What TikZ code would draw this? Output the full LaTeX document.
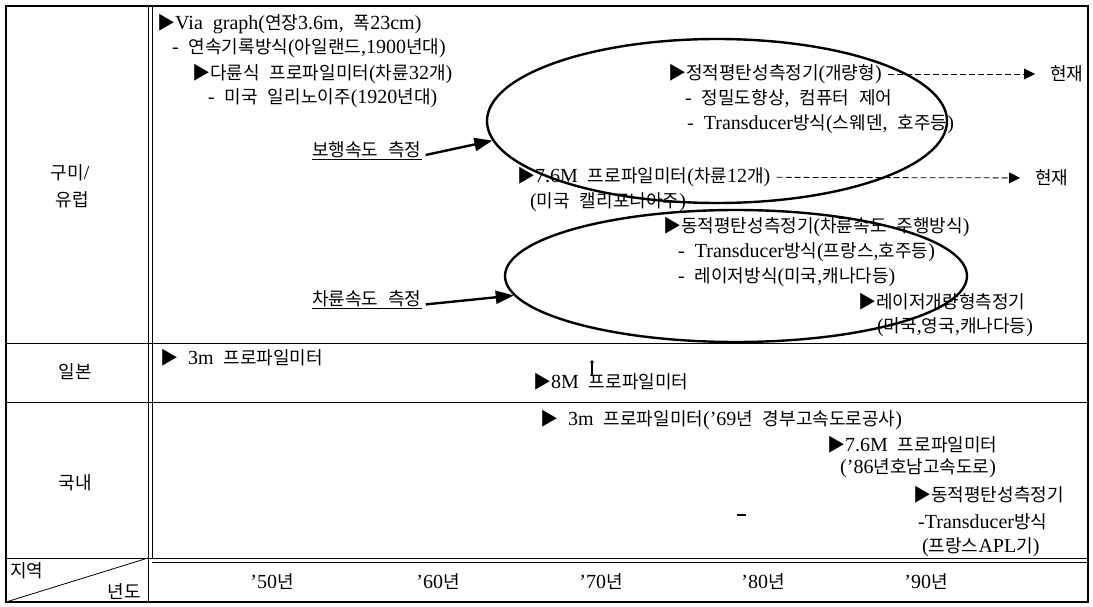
\documentclass[tikz,border=0pt]{standalone}
\usepackage{fontspec}
\setmainfont{Liberation Serif}[WordSpace=2]
\newfontfamily\krfont{Noto Sans CJK KR}[Scale=0.9]
\usetikzlibrary{shapes.geometric,arrows.meta}
% hangul (and the triangle mark) in the CJK face
\XeTeXinterchartokenstate=1
\newXeTeXintercharclass\hangulclass
\newcount\hgc
\hgc="AC00
\loop
\XeTeXcharclass\hgc=\hangulclass
\ifnum\hgc<"D7A3 \advance\hgc by 1
\repeat
\XeTeXcharclass"25B6=\hangulclass
\XeTeXinterchartoks 0 \hangulclass={\begingroup\krfont}
\XeTeXinterchartoks 4095 \hangulclass={\begingroup\krfont}
\XeTeXinterchartoks \hangulclass 0={\endgroup}
\XeTeXinterchartoks \hangulclass 4095={\endgroup}
\begin{document}
\begin{tikzpicture}[x=1pt,y=-1pt,
txt/.style={anchor=west,inner sep=0pt,font=\fontsize{20}{24}\selectfont},
lbl/.style={inner sep=0pt,font=\fontsize{20}{24}\selectfont},
ring/.style={draw,ellipse,line width=2.4pt,inner sep=0pt},
pointer/.style={line width=2.4pt,-{Triangle[length=18pt,width=13pt]},shorten <=4pt},
until/.style={line width=0.8pt,dash pattern=on 6pt off 3pt,-{Triangle[length=11pt,width=11pt]},shorten <=6pt,shorten >=15pt},
grid/.style={line width=0.8pt}]
\useasboundingbox(0,0)rectangle(1093,607);
% table
\draw[line width=1.2pt](6,6)rectangle(1088,602);
\draw[line width=2.2pt](6,6)--(1088,6);
\draw[grid](148,6)--(148,602);
\draw[grid](152,6)--(152,558);
\draw[grid](6,343)--(1088,343);
\draw[grid](6,402)--(1088,402);
\draw[grid](6,558)--(1088,558);
\draw[grid](152,562)--(1088,562);
\draw[grid](6,602)--(148,558);
% row heads
\node[lbl] (eu1) at (70,173){구미/};
\node[lbl] (eu2) at (72,200){유럽};
\node[lbl] (jp) at (75,372){일본};
\node[lbl] (kr) at (75,483){국내};
\node[txt] (region) at (10,571){지역};
\node[txt,anchor=east] (year) at (141,592){년도};
\foreach \yr/\xx in {50/272,60/438,70/601,80/763,90/926}
\node[lbl] (y\yr) at (\xx,582){'\yr{}년};
% europe / america
\node[txt] (via) at (157,24){▶Via graph(연장3.6m, 폭23cm)};
\node[txt] (vian) at (172,48){- 연속기록방식(아일랜드,1900년대)};
\node[txt] (multi) at (192,74){▶다륜식 프로파일미터(차륜32개)};
\node[txt] (multin) at (208,98){- 미국 일리노이주(1920년대)};
\node[txt] (static) at (668,74){▶정적평탄성측정기(개량형)};
\node[txt] (staticn) at (685,99){- 정밀도향상, 컴퓨터 제어};
\node[txt] (staticm) at (687,124){- Transducer방식(스웨덴, 호주등)};
\node[txt] (now1) at (1050,74){현재};
\node[txt] (walk) at (312,151){\underline{보행속도 측정}};
\node[txt] (prof) at (517,177){▶7.6M 프로파일미터(차륜12개)};
\node[txt] (profn) at (530,202){(미국 캘리포니아주)};
\node[txt] (now2) at (1035,178){현재};
\node[txt] (dyn) at (663,227){▶동적평탄성측정기(차륜속도 주행방식)};
\node[txt] (dynn) at (678,252){- Transducer방식(프랑스,호주등)};
\node[txt] (dynm) at (678,277){- 레이저방식(미국,캐나다등)};
\node[txt] (wheel) at (312,300){\underline{차륜속도 측정}};
\node[txt] (laser) at (858,302){▶레이저개량형측정기};
\node[txt] (lasern) at (877,327){(미국,영국,캐나다등)};
\node[ring,minimum width=460pt,minimum height=164pt] (walkring) at (717,121){};
\node[ring,minimum width=462pt,minimum height=132pt] (wheelring) at (736,276){};
\draw[pointer](walk.-5)--(walkring.185);
\draw[pointer](wheel.-5)--(wheelring.185);
\draw[until](static)--(now1);
\draw[until](prof)--(now2);
% japan
\node[txt] (jp3) at (160,358){▶ 3m 프로파일미터};
\node[txt] (jp8) at (533,382){▶8M 프로파일미터};
\draw[line width=1.2pt](592,361)--(592,376);
\fill(592,362)circle[radius=1.8pt];
% korea
\node[txt] (kr3) at (540,420){▶ 3m 프로파일미터('69년 경부고속도로공사)};
\node[txt] (kr7) at (827,445){▶7.6M 프로파일미터};
\node[txt] (kr7n) at (840,468){('86년호남고속도로)};
\node[txt] (krd) at (913,495){▶동적평탄성측정기};
\node[txt] (krdn) at (918,522){-Transducer방식};
\node[txt] (krdm) at (922,547){(프랑스APL기)};
\draw[line width=2pt](737,515)--(746,515);
\end{tikzpicture}
\end{document}
